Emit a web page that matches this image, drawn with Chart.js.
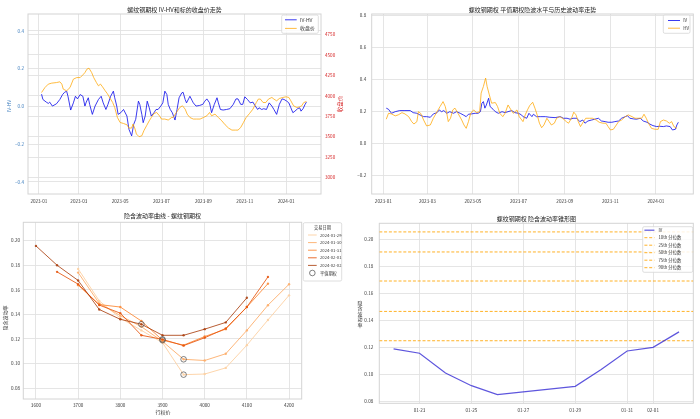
<!DOCTYPE html>
<html>
<head>
<meta charset="utf-8">
<script src="https://cdn.jsdelivr.net/npm/chart.js@4.4.0/dist/chart.umd.min.js"></script>
<style>
  html, body { margin: 0; padding: 0; background: #fff; }
  #wrap { position: relative; width: 700px; height: 419px; overflow: hidden; }
  canvas { position: absolute; }
</style>
</head>
<body>
<div id="wrap">
  <canvas id="c1" width="350" height="210" style="left:0;top:0"></canvas>
  <canvas id="c2" width="350" height="210" style="left:350px;top:0"></canvas>
  <canvas id="c3" width="350" height="209" style="left:0;top:210px"></canvas>
  <canvas id="c4" width="350" height="209" style="left:350px;top:210px"></canvas>
</div>
<script>
// days are counted from 2023-01-01
const monthTickDays = [0, 59, 120, 181, 243, 304, 365];
const monthTickLabels = ["2023-01", "2023-03", "2023-05", "2023-07", "2023-09", "2023-11", "2024-01"];

// panel 1: IV-HV spread and underlying close
const ivhvDays = [4, 6, 11, 14, 16, 20, 26, 31, 35, 38, 41, 43, 47, 51, 54, 57, 61, 65, 68, 70, 73, 75, 79, 83, 88, 92, 95, 99, 102, 106, 110, 112, 115, 117, 121, 125, 130, 133, 137, 140, 143, 147, 149, 152, 154, 157, 160, 163, 166, 170, 173, 176, 180, 183, 186, 189, 191, 194, 197, 201, 204, 207, 211, 213, 216, 218, 221, 223, 226, 228, 232, 237, 242, 245, 248, 252, 255, 259, 263, 265, 268, 272, 277, 282, 287, 291, 294, 298, 301, 304, 308, 312, 316, 319, 323, 325, 329, 332, 336, 340, 344, 347, 351, 355, 359, 362, 366, 369, 372, 375, 378, 382, 385, 387, 390, 393, 395];
const ivhvValues = [0.065, 0.037, 0.023, 0.016, 0.023, 0.002, 0.014, 0.037, 0.063, 0.075, 0.081, 0.054, -0.019, 0.019, 0.054, 0.040, 0.063, 0.054, 0.002, 0.023, 0.046, 0.011, -0.042, 0.002, 0.037, 0.054, 0.019, -0.016, 0.011, 0.054, 0.081, 0.046, 0.002, -0.042, -0.033, -0.016, -0.051, -0.121, -0.156, -0.095, -0.068, 0.028, 0.011, -0.042, -0.086, -0.051, 0.028, -0.007, -0.051, -0.033, -0.016, -0.016, 0.002, 0.019, 0.081, 0.063, 0.011, -0.016, -0.033, -0.072, -0.016, 0.046, 0.072, 0.075, 0.037, 0.019, 0.040, 0.054, 0.033, 0.019, 0.002, 0.005, 0.011, 0.028, 0.040, 0.019, -0.033, 0.011, 0.046, 0.019, -0.016, -0.019, -0.016, -0.012, 0.011, 0.040, 0.040, 0.011, 0.011, 0.051, 0.037, 0.019, 0.023, 0.005, -0.016, -0.007, -0.016, -0.012, -0.016, 0.019, 0.002, -0.016, -0.042, 0.011, 0.040, 0.037, 0.028, 0.019, -0.007, -0.033, -0.025, -0.012, -0.007, -0.025, -0.012, 0.011, 0.023];
const closeDays = [4, 9, 14, 19, 26, 31, 34, 36, 41, 46, 51, 56, 61, 65, 68, 71, 74, 78, 81, 85, 88, 91, 94, 98, 101, 105, 109, 112, 116, 120, 125, 130, 133, 137, 139, 142, 144, 148, 152, 155, 159, 163, 166, 170, 174, 178, 181, 186, 191, 196, 198, 203, 208, 212, 216, 219, 223, 228, 233, 238, 243, 248, 252, 255, 260, 265, 270, 275, 280, 285, 290, 294, 298, 302, 306, 311, 316, 321, 324, 327, 331, 335, 339, 344, 347, 351, 355, 360, 365, 369, 372, 376, 381, 385, 388, 391, 395];
const closeValues = [4040, 4101, 4143, 4155, 4162, 4171, 4143, 4082, 4061, 4101, 4204, 4223, 4223, 4256, 4284, 4326, 4338, 4284, 4223, 4162, 4122, 4143, 4110, 4061, 4028, 3972, 3918, 3857, 3735, 3674, 3662, 3646, 3606, 3606, 3655, 3594, 3533, 3500, 3512, 3573, 3634, 3695, 3735, 3784, 3796, 3756, 3716, 3716, 3704, 3735, 3735, 3796, 3857, 3878, 3837, 3776, 3735, 3716, 3716, 3716, 3735, 3756, 3796, 3756, 3776, 3735, 3695, 3646, 3606, 3581, 3581, 3581, 3613, 3674, 3735, 3784, 3837, 3918, 3960, 3960, 3918, 3918, 3960, 3980, 3960, 3939, 3967, 3980, 3988, 3980, 3939, 3878, 3857, 3866, 3878, 3918, 3930];
const spreadTicks = [-0.4, -0.2, 0, 0.2, 0.4];
const priceTicks = [3000, 3250, 3500, 3750, 4000, 4250, 4500, 4750];

// panel 2: ATM implied vol and historical vol
const ivDays = [4, 7, 11, 16, 22, 29, 36, 40, 45, 49, 54, 58, 63, 67, 72, 75, 78, 81, 85, 89, 94, 98, 103, 107, 111, 114, 118, 123, 127, 130, 132, 134, 136, 138, 141, 143, 147, 150, 154, 159, 163, 167, 172, 176, 181, 185, 187, 192, 195, 199, 201, 205, 210, 217, 223, 230, 237, 241, 246, 250, 254, 259, 263, 267, 270, 274, 279, 283, 288, 292, 297, 301, 306, 310, 315, 319, 324, 327, 330, 335, 339, 344, 348, 353, 357, 361, 366, 370, 375, 379, 384, 387, 391, 393, 395];
const ivValues = [0.222, 0.215, 0.190, 0.200, 0.207, 0.207, 0.207, 0.194, 0.190, 0.180, 0.169, 0.169, 0.165, 0.186, 0.194, 0.211, 0.200, 0.207, 0.190, 0.200, 0.190, 0.200, 0.190, 0.180, 0.169, 0.184, 0.186, 0.190, 0.190, 0.200, 0.253, 0.263, 0.222, 0.242, 0.284, 0.232, 0.215, 0.200, 0.190, 0.200, 0.194, 0.200, 0.207, 0.194, 0.190, 0.180, 0.169, 0.159, 0.190, 0.169, 0.184, 0.169, 0.169, 0.169, 0.165, 0.163, 0.169, 0.159, 0.159, 0.153, 0.159, 0.159, 0.138, 0.148, 0.128, 0.142, 0.148, 0.153, 0.159, 0.142, 0.138, 0.134, 0.134, 0.138, 0.142, 0.159, 0.169, 0.175, 0.159, 0.155, 0.153, 0.159, 0.142, 0.134, 0.122, 0.113, 0.107, 0.109, 0.107, 0.111, 0.107, 0.086, 0.090, 0.117, 0.134];
const hvDays = [4, 7, 11, 16, 20, 25, 29, 34, 38, 41, 45, 47, 50, 54, 58, 63, 67, 72, 76, 80, 83, 85, 87, 90, 93, 96, 100, 105, 108, 111, 114, 117, 121, 125, 129, 131, 134, 137, 139, 142, 145, 150, 153, 156, 160, 163, 167, 171, 174, 179, 182, 187, 190, 193, 196, 200, 203, 206, 209, 212, 215, 219, 222, 225, 229, 232, 236, 240, 245, 248, 252, 255, 258, 261, 264, 268, 271, 276, 280, 285, 289, 294, 298, 301, 304, 308, 312, 315, 319, 324, 328, 333, 337, 341, 346, 349, 352, 355, 359, 364, 368, 371, 375, 379, 383, 386, 389, 393];
const hvValues = [0.153, 0.190, 0.186, 0.174, 0.180, 0.194, 0.186, 0.169, 0.138, 0.123, 0.138, 0.200, 0.190, 0.148, 0.111, 0.117, 0.159, 0.200, 0.232, 0.263, 0.232, 0.190, 0.138, 0.159, 0.211, 0.222, 0.190, 0.148, 0.117, 0.096, 0.138, 0.190, 0.211, 0.194, 0.200, 0.316, 0.357, 0.410, 0.357, 0.305, 0.253, 0.257, 0.232, 0.190, 0.169, 0.190, 0.242, 0.211, 0.190, 0.211, 0.169, 0.138, 0.180, 0.211, 0.238, 0.259, 0.222, 0.180, 0.128, 0.100, 0.117, 0.159, 0.138, 0.117, 0.128, 0.159, 0.169, 0.159, 0.138, 0.128, 0.159, 0.197, 0.180, 0.138, 0.107, 0.138, 0.159, 0.159, 0.159, 0.148, 0.134, 0.128, 0.128, 0.107, 0.086, 0.090, 0.117, 0.138, 0.148, 0.169, 0.180, 0.169, 0.159, 0.159, 0.159, 0.184, 0.159, 0.128, 0.096, 0.090, 0.090, 0.138, 0.148, 0.142, 0.128, 0.138, 0.107, 0.096];
const volTicks = [-0.2, 0, 0.2, 0.4, 0.6, 0.8];

// panel 3: smile by trade date
const strikes = [3600, 3650, 3700, 3750, 3800, 3850, 3900, 3950, 4000, 4050, 4100, 4150, 4200];
const smileDates = ["2024-01-29", "2024-01-30", "2024-01-31", "2024-02-01", "2024-02-02"];
const smile0129 = [null, null, 0.177, 0.151, 0.137, 0.127, 0.117, 0.091, 0.0915, 0.0965, 0.115, 0.1355, 0.1555];
const smile0130 = [null, null, 0.174, 0.149, 0.139, 0.130, 0.118, 0.1035, 0.1025, 0.108, 0.127, 0.1475, 0.1645];
const smile0131 = [null, null, 0.1638, 0.148, 0.146, 0.1346, 0.119, 0.115, 0.122, 0.128, 0.146, 0.165, null];
const smile0201 = [null, 0.1746, 0.1646, 0.1476, 0.141, 0.123, 0.1197, 0.1146, 0.121, 0.1286, 0.146, 0.1705, null];
const smile0202 = [0.1957, 0.180, 0.1676, 0.144, 0.136, 0.132, 0.123, 0.123, 0.128, 0.1335, 0.1535, null, null];
const atmStrikes = [3950, 3950, 3900, 3900, 3850];
const atmVols = [0.091, 0.1035, 0.119, 0.1197, 0.132];
const strikeTicks = [3600, 3700, 3800, 3900, 4000, 4100, 4200];
const smileTicks = [0.08, 0.10, 0.12, 0.14, 0.16, 0.18, 0.20];

// panel 4: ATM IV against its percentile cone
const coneDates = ["2024-01-22", "2024-01-23", "2024-01-24", "2024-01-25", "2024-01-26", "2024-01-29", "2024-01-30", "2024-01-31", "2024-02-01", "2024-02-02"];
const coneIV = [0.1188, 0.1156, 0.1009, 0.0915, 0.0849, 0.0910, 0.1035, 0.1173, 0.1200, 0.1315];
const coneNames = ["10th 分位数", "25th 分位数", "50th 分位数", "75th 分位数", "90th 分位数"];
const coneLevels = [0.1249, 0.1467, 0.1693, 0.1909, 0.2058];
const coneTickDates = ["2024-01-23", "2024-01-25", "2024-01-27", "2024-01-29", "2024-01-31", "2024-02-01"];
const coneTickLabels = ["01-23", "01-25", "01-27", "01-29", "01-31", "02-01"];
const coneDayTicks = [0.08, 0.10, 0.12, 0.14, 0.16, 0.18, 0.20];

const FONT = '"Noto Sans CJK SC", "DejaVu Sans", sans-serif';
Chart.defaults.font.family = FONT;
Chart.defaults.font.size = 4.6;
Chart.defaults.color = "#3a3a3a";

const GRID = { color: "#e2e2e2", lineWidth: 0.9, drawTicks: false };
const pts = (xs, ys) => xs.map((x, i) => ({ x: x, y: ys[i] })).filter(p => p.y !== null);
const fix = vals => s => { s.ticks = vals.map(v => ({ value: v })); };
const minus = (v, d) => (v < 0 ? "\u2212" : "") + Math.abs(v).toFixed(d);
const dayOf = (d, from) => (Date.parse(d) - Date.parse(from)) / 86400000;

const frame = {
  id: "frame",
  beforeDatasetsDraw(chart) {
    const a = chart.chartArea, ctx = chart.ctx;
    ctx.save();
    ctx.strokeStyle = "#d4d4d4";
    ctx.lineWidth = 1;
    ctx.strokeRect(a.left, a.top, a.right - a.left, a.bottom - a.top);
    ctx.restore();
  }
};

function notes(items) {
  return {
    id: "notes",
    afterDraw(chart) {
      const ctx = chart.ctx;
      items.forEach(t => {
        ctx.save();
        ctx.font = t.size + "px " + FONT;
        ctx.fillStyle = t.color || "#333";
        ctx.textAlign = "center";
        ctx.textBaseline = "middle";
        ctx.translate(t.x, t.y);
        if (t.rotate) ctx.rotate(t.rotate);
        if (t.stack) {
          const chars = Array.from(t.text);
          chars.forEach((c, i) => ctx.fillText(c, 0, (i - (chars.length - 1) / 2) * t.size * 1.1));
        } else {
          ctx.fillText(t.text, 0, 0);
        }
        ctx.restore();
      });
    }
  };
}

function legendBox(o) {
  return {
    id: "legendBox",
    afterDraw(chart) {
      const ctx = chart.ctx;
      ctx.save();
      ctx.fillStyle = "rgba(255,255,255,0.85)";
      ctx.strokeStyle = "#d6d6d6";
      ctx.lineWidth = 0.8;
      ctx.beginPath();
      ctx.roundRect(o.x, o.y, o.w, o.h, 1.5);
      ctx.fill();
      ctx.stroke();
      ctx.font = o.size + "px " + FONT;
      ctx.textBaseline = "middle";
      if (o.title) {
        ctx.fillStyle = "#333";
        ctx.textAlign = "center";
        ctx.fillText(o.title, o.x + o.w / 2, o.y + o.titleY);
      }
      let y = o.y + o.first;
      chart.data.datasets.forEach(ds => {
        if (ds.inLegend === false) return;
        const x0 = o.x + o.handleX, x1 = x0 + o.handleW;
        if (ds.showLine !== false) {
          ctx.strokeStyle = ds.borderColor;
          ctx.lineWidth = ds.borderWidth;
          ctx.setLineDash(ds.borderDash || []);
          ctx.beginPath();
          ctx.moveTo(x0, y);
          ctx.lineTo(x1, y);
          ctx.stroke();
          ctx.setLineDash([]);
        } else {
          ctx.strokeStyle = ds.pointBorderColor;
          ctx.lineWidth = ds.pointBorderWidth;
          ctx.beginPath();
          ctx.arc((x0 + x1) / 2, y, ds.pointRadius, 0, Math.PI * 2);
          ctx.stroke();
        }
        ctx.fillStyle = "#333";
        ctx.textAlign = "left";
        ctx.fillText(ds.label, o.x + o.textX, y);
        y += o.rowH;
      });
      ctx.restore();
    }
  };
}

function base(title, padTop, padBottom, layoutPad) {
  return {
    responsive: false,
    animation: false,
    devicePixelRatio: 1,
    events: [],
    layout: { padding: layoutPad },
    plugins: {
      legend: { display: false },
      tooltip: { enabled: false },
      title: {
        display: true, text: title, fullSize: false, color: "#222",
        font: { size: 6, weight: "normal", lineHeight: 1.2 },
        padding: { top: padTop, bottom: padBottom }
      }
    }
  };
}

function dateAxis(min, max, tickDays, tickLabels, height, pad) {
  return {
    type: "linear", min: min, max: max,
    afterBuildTicks: fix(tickDays),
    afterFit: s => { s.height = height; },
    ticks: { autoSkip: false, maxRotation: 0, padding: pad, callback: v => tickLabels[tickDays.indexOf(v)] },
    grid: GRID, border: { display: false }
  };
}

function valueAxis(pos, min, max, ticks, width, pad, fmt, color) {
  return {
    position: pos, min: min, max: max,
    afterBuildTicks: fix(ticks),
    afterFit: s => { s.width = width; },
    ticks: { padding: pad, callback: fmt, color: color || "#3a3a3a" },
    grid: GRID, border: { display: false }
  };
}

// ---- panel 1
new Chart(document.getElementById("c1"), {
  type: "line",
  data: {
    datasets: [
      { label: "IV-HV", data: pts(ivhvDays, ivhvValues), yAxisID: "y", order: 1,
        borderColor: "rgba(10,10,235,0.8)", borderWidth: 1, pointRadius: 0 },
      { label: "收盘价", data: pts(closeDays, closeValues), yAxisID: "y1", order: 0,
        borderColor: "rgba(255,165,0,0.75)", borderWidth: 1, pointRadius: 0 }
    ]
  },
  options: Object.assign(base("螺纹钢期权 IV-HV和标的收盘价走势", 6, 0.8, 0), {
    scales: {
      x: dateAxis(-16, 416.5, monthTickDays, monthTickLabels, 16, 4),
      y: valueAxis("left", -0.464, 0.49, spreadTicks, 28, 4, v => minus(v, 1), "#3f7fbf"),
      y1: valueAxis("right", 2800, 5000, priceTicks, 29, 4, v => String(v), "#d62728")
    }
  }),
  plugins: [frame,
    legendBox({ x: 281.7, y: 15, w: 36.6, h: 18.3, size: 5, first: 4.8, rowH: 8.6, handleX: 3.3, handleW: 11.7, textX: 18.3 }),
    notes([
      { text: "IV-HV", x: 9.3, y: 106, size: 5, color: "#3f7fbf", rotate: -Math.PI / 2 },
      { text: "收盘价", x: 340, y: 104, size: 5.5, color: "#d62728", rotate: -Math.PI / 2 }
    ])]
});

// ---- panel 2
new Chart(document.getElementById("c2"), {
  type: "line",
  data: {
    datasets: [
      { label: "IV", data: pts(ivDays, ivValues), order: 1,
        borderColor: "rgba(10,10,235,0.8)", borderWidth: 1, pointRadius: 0 },
      { label: "HV", data: pts(hvDays, hvValues), order: 0,
        borderColor: "rgba(255,165,0,0.75)", borderWidth: 1, pointRadius: 0 }
    ]
  },
  options: Object.assign(base("螺纹钢期权 平值期权隐波水平与历史波动率走势", 6, 0.8, { right: 6.7 }), {
    scales: {
      x: dateAxis(-15.5, 415, monthTickDays, monthTickLabels, 16, 4),
      y: valueAxis("left", -0.314, 0.81, volTicks, 21.7, 5.5, v => minus(v, 1))
    }
  }),
  plugins: [frame,
    legendBox({ x: 313.3, y: 15, w: 26.7, h: 18.3, size: 4.5, first: 5.5, rowH: 7.7, handleX: 4.7, handleW: 12, textX: 20 })]
});

// ---- panel 3
const smileSeries = [smile0129, smile0130, smile0131, smile0201, smile0202];
const smileColors = ["rgba(253,208,162,0.9)", "rgba(253,174,107,0.9)", "rgba(253,141,60,0.9)", "rgba(230,85,13,0.85)", "rgba(166,54,3,0.8)"];
const smileSets = smileSeries.map((vals, i) => ({
  label: smileDates[i], data: pts(strikes, vals), order: 10 - i,
  borderColor: smileColors[i], backgroundColor: smileColors[i], borderWidth: 1,
  pointRadius: 1.2, pointBorderWidth: 0, pointBackgroundColor: smileColors[i]
}));
smileSets.push({
  label: "平值期权", data: pts(atmStrikes, atmVols), showLine: false, order: 0,
  pointRadius: 2.8, pointBorderWidth: 0.8, pointBorderColor: "rgba(70,70,70,0.85)",
  pointBackgroundColor: "rgba(0,0,0,0)", borderColor: "rgba(70,70,70,0.85)"
});
new Chart(document.getElementById("c3"), {
  type: "line",
  data: { datasets: smileSets },
  options: Object.assign(base("隐含波动率曲线 - 螺纹钢期权", 2.4, 2.7, { right: 48.3 }), {
    scales: {
      x: {
        type: "linear", min: 3570, max: 4230,
        afterBuildTicks: fix(strikeTicks),
        afterFit: s => { s.height = 20; },
        ticks: { autoSkip: false, maxRotation: 0, padding: 3, callback: v => String(v) },
        grid: GRID, border: { display: false }
      },
      y: valueAxis("left", 0.0712, 0.2149, smileTicks, 23.3, 3.3, v => v.toFixed(2))
    }
  }),
  plugins: [frame,
    legendBox({ x: 303.3, y: 12.7, w: 38.4, h: 58.3, size: 4.2, title: "交易日期", titleY: 4.3, first: 12.3, rowH: 7.6, handleX: 4.7, handleW: 8.7, textX: 16.7 }),
    notes([
      { text: "隐含波动率", x: 5, y: 108, size: 5, rotate: -Math.PI / 2 },
      { text: "行权价", x: 163, y: 202.3, size: 5 }
    ])]
});

// ---- panel 4
const CONE_MIN = -1.55, CONE_MAX = 10.55;
const coneStart = "2024-01-23";
const coneSets = [{
  label: "IV", data: pts(coneDates.map(d => dayOf(d, coneStart)), coneIV),
  borderColor: "rgba(40,30,210,0.75)", borderWidth: 1.2, pointRadius: 0
}];
coneLevels.forEach((lv, i) => coneSets.push({
  label: coneNames[i], data: [{ x: CONE_MIN, y: lv }, { x: CONE_MAX, y: lv }],
  borderColor: "rgba(255,165,0,0.85)", borderWidth: 1, borderDash: [3, 1.8], pointRadius: 0
}));
new Chart(document.getElementById("c4"), {
  type: "line",
  data: { datasets: coneSets },
  options: Object.assign(base("螺纹钢期权 隐含波动率锥形图", 5.4, 0.7, { right: 6.7 }), {
    scales: {
      x: dateAxis(CONE_MIN, CONE_MAX, coneTickDates.map(d => dayOf(d, coneStart)), coneTickLabels, 15.7, 3.7),
      y: valueAxis("left", 0.0784, 0.2122, coneDayTicks, 29.3, 6, v => v.toFixed(2))
    }
  }),
  plugins: [frame,
    legendBox({ x: 292.7, y: 16.7, w: 50, h: 45.6, size: 4.3, first: 3.5, rowH: 7.5, handleX: 1.7, handleW: 10, textX: 15.7 }),
    notes([
      { text: "隐含波动率", x: 10, y: 104, size: 5, stack: true }
    ])]
});
</script>
</body>
</html>
